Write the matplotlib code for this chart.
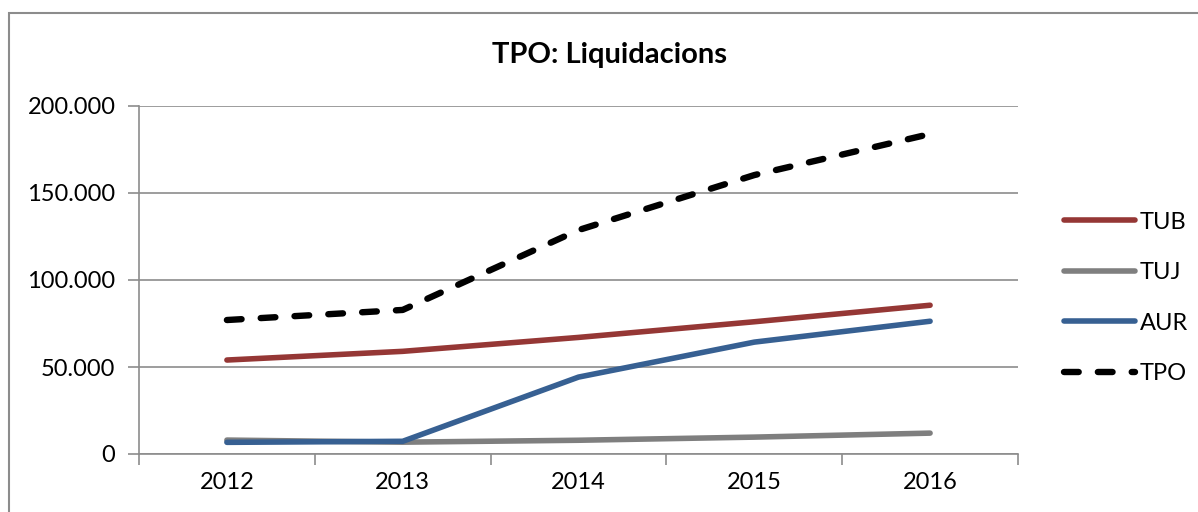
import matplotlib.pyplot as plt
from matplotlib.patches import Rectangle
from matplotlib.ticker import FuncFormatter, FixedLocator

plt.rcParams['font.family'] = ['Lato', 'DejaVu Sans']

years = ['2012', '2013', '2014', '2015', '2016']
tub = [54000, 59000, 67000, 76000, 85500]
tuj = [8000, 6800, 7900, 9700, 12000]
aur = [6700, 7300, 44200, 64300, 76300]
tpo = [77000, 82800, 128700, 160300, 183900]

fig = plt.figure(figsize=(11.98, 5.12), dpi=100)
# outer chart border
fig.patches.append(Rectangle((9 / 1198, -0.1), 1.2, 1 - 13 / 512 + 0.1,
                             transform=fig.transFigure, fill=False,
                             edgecolor='#8c8c8c', linewidth=1.5))

ax = fig.add_axes([139 / 1198, 1 - 454 / 512, 879 / 1198, 348 / 512])
xs = [i + 0.5 for i in range(len(years))]

lw = 4.0
ax.plot(xs, tub, color='#953735', lw=lw, solid_capstyle='round', label='TUB', zorder=3)
ax.plot(xs, tuj, color='#7f7f7f', lw=lw, solid_capstyle='round', label='TUJ', zorder=3)
ax.plot(xs, aur, color='#376092', lw=lw, solid_capstyle='round', label='AUR', zorder=3)
ax.plot(xs, tpo, color='black', lw=4.6, dashes=(2.3, 3.0), dash_capstyle='round',
        label='TPO', zorder=4)

ax.set_xlim(0, len(years))
ax.set_ylim(0, 200000)
ax.set_yticks([0, 50000, 100000, 150000, 200000])
ax.yaxis.set_major_formatter(FuncFormatter(lambda v, p: f"{int(v):,}".replace(',', '.')))

ax.xaxis.set_major_locator(FixedLocator(range(len(years) + 1)))
ax.xaxis.set_minor_locator(FixedLocator(xs))
ax.set_xticklabels([], minor=False)
ax.set_xticklabels(years, minor=True)
ax.tick_params(axis='x', which='major', length=8, width=1.2, color='#8c8c8c')
ax.tick_params(axis='x', which='minor', length=0, pad=13, labelsize=17)
ax.tick_params(axis='y', length=8, width=1.2, color='#8c8c8c', labelsize=17, pad=9)

ax.grid(axis='y', color='#8c8c8c', lw=1.2)
for s in ['top', 'right']:
    ax.spines[s].set_visible(False)
for s in ['left', 'bottom']:
    ax.spines[s].set_color('#8c8c8c')
    ax.spines[s].set_linewidth(1.2)

fig.text(610 / 1198, 1 - 55 / 512, 'TPO: Liquidacions', ha='center', va='center',
         fontsize=21, fontweight='bold')

fig.legend(loc='center left', bbox_to_anchor=(1043 / 1198, 1 - 298 / 512),
           frameon=False, fontsize=17, handlelength=3.0, handletextpad=0.2,
           labelspacing=1.25)

fig.savefig('out.png', dpi=100)
